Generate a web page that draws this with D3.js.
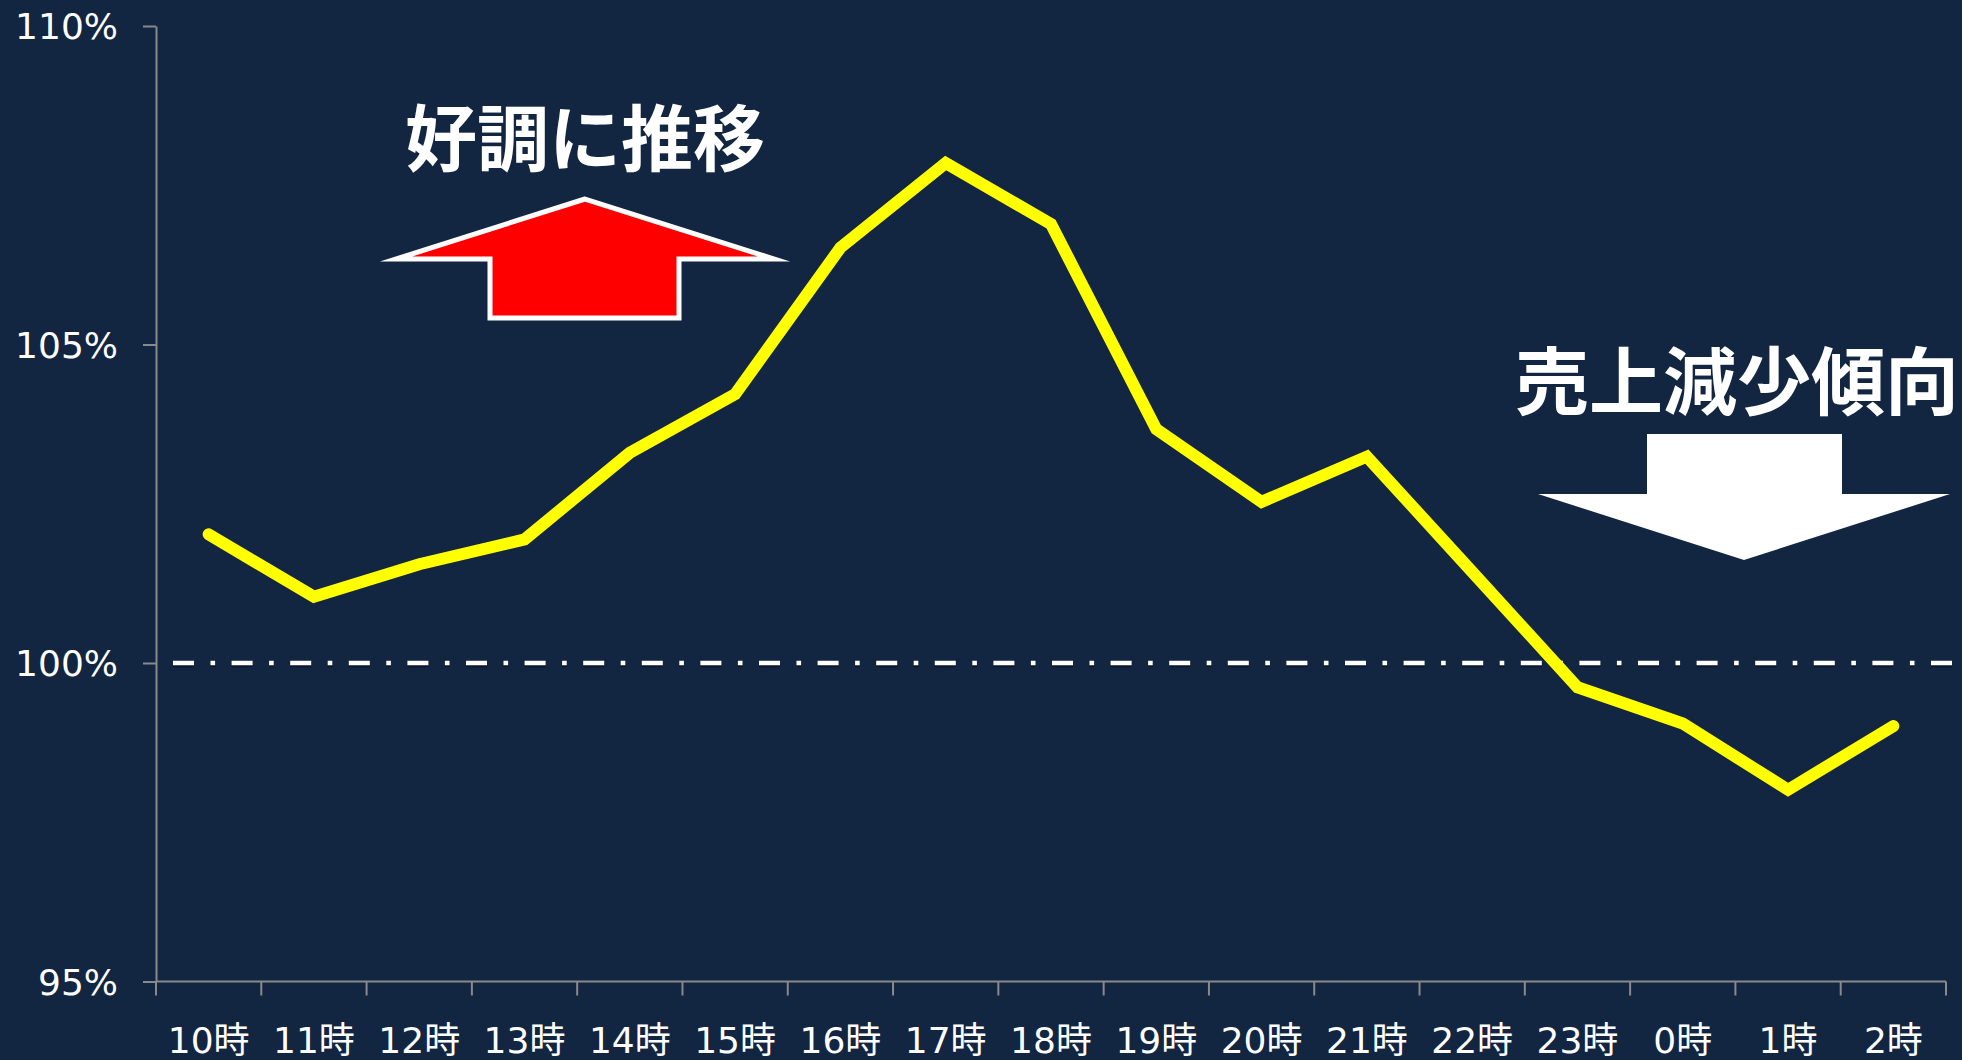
<!DOCTYPE html>
<html>
<head>
<meta charset="utf-8">
<script src="https://cdn.jsdelivr.net/npm/d3@7"></script>
<style>
  html, body { margin: 0; padding: 0; background: #122541; }
  svg { display: block; }
</style>
</head>
<body>
<script>
// hours on the x axis
let categories = ['10時', '11時', '12時', '13時', '14時', '15時', '16時', '17時', '18時',
                  '19時', '20時', '21時', '22時', '23時', '0時', '1時', '2時'];
// sales ratio (%) per hour
let values = [102.02, 101.04, 101.55, 101.94, 103.30, 104.22, 106.52, 107.85, 106.89,
              103.67, 102.53, 103.24, 101.43, 99.62, 99.05, 98.01, 99.01];
let yTicks = [95, 100, 105, 110];
let baseline = 100;
let upLabel = '好調に推移';
let downLabel = '売上減少傾向';

let width = 1962;
let height = 1060;
let bg = '#122541';

let svg = d3.select('body').append('svg')
  .attr('width', width)
  .attr('height', height);

svg.append('rect')
  .attr('width', width).attr('height', height)
  .attr('fill', bg);

let x = d3.scaleBand()
  .domain(categories)
  .range([156, 1946]);

let y = d3.scaleLinear()
  .domain([95, 110])
  .range([981.5, 26]);

let axisColor = '#8a8a8a';

// y axis
let yAxis = svg.append('g')
  .attr('transform', 'translate(156,0)')
  .call(d3.axisLeft(y).tickValues(yTicks).tickSize(13).tickSizeOuter(0)
        .tickPadding(25).tickFormat(d => d + '%'));
yAxis.select('.domain').attr('stroke', axisColor).attr('stroke-width', 2);
yAxis.selectAll('.tick line').attr('stroke', axisColor).attr('stroke-width', 2);
yAxis.selectAll('text')
  .attr('fill', '#ffffff')
  .attr('font-family', 'DejaVu Sans, Verdana, sans-serif')
  .attr('font-size', 36)
  .attr('dy', '0.36em');

// x axis: labels at band centres, ticks at band edges
let xAxis = svg.append('g')
  .attr('transform', 'translate(0,981.5)')
  .call(d3.axisBottom(x).tickSize(0).tickSizeOuter(0));
xAxis.select('.domain').remove();
xAxis.selectAll('text')
  .attr('fill', '#ffffff')
  .attr('font-family', 'DejaVu Sans, "Noto Sans CJK JP", sans-serif')
  .attr('font-size', 36)
  .attr('y', 59)
  .attr('dy', '0.36em');

xAxis.append('line')
  .attr('x1', x.range()[0]).attr('x2', x.range()[1])
  .attr('stroke', axisColor).attr('stroke-width', 2);

let edges = categories.map(c => x(c)).concat([x.range()[1]]);
xAxis.selectAll('.edge')
  .data(edges)
  .enter().append('line')
  .attr('class', 'edge')
  .attr('x1', d => d).attr('x2', d => d)
  .attr('y1', 0).attr('y2', 14)
  .attr('stroke', axisColor).attr('stroke-width', 2);

// 100% reference line (dash-dot)
let dash = '21,16.5,4.6,16.5';
svg.append('line')
  .attr('x1', 173).attr('x2', width)
  .attr('y1', y(baseline) + 2).attr('y2', y(baseline) + 2)
  .attr('stroke', '#000').attr('stroke-opacity', 0.35)
  .attr('stroke-width', 4.6).attr('stroke-dasharray', dash);
svg.append('line')
  .attr('x1', 173).attr('x2', width)
  .attr('y1', y(baseline)).attr('y2', y(baseline))
  .attr('stroke', '#ffffff')
  .attr('stroke-width', 4.6).attr('stroke-dasharray', dash);

// data line
let line = d3.line()
  .x((d, i) => x(categories[i]) + x.bandwidth() / 2)
  .y(d => y(d));

svg.append('path')
  .datum(values)
  .attr('d', line)
  .attr('fill', 'none')
  .attr('stroke', '#ffff00')
  .attr('stroke-width', 12)
  .attr('stroke-linecap', 'round')
  .attr('stroke-linejoin', 'miter');

// annotations
let upArrow = [[585, 199], [396, 259], [490, 259], [490, 318], [679, 318], [679, 259], [774, 259]];
svg.append('polygon')
  .attr('points', upArrow.map(p => p.join(',')).join(' '))
  .attr('fill', '#ff0000')
  .attr('stroke', '#ffffff')
  .attr('stroke-width', 5)
  .attr('stroke-linejoin', 'miter')
  .attr('stroke-miterlimit', 12);

let downArrow = [[1647, 434], [1842, 434], [1842, 494], [1950, 494], [1744, 560], [1538, 494], [1647, 494]];
svg.append('polygon')
  .attr('points', downArrow.map(p => p.join(',')).join(' '))
  .attr('fill', '#ffffff');

svg.append('text')
  .attr('x', 585).attr('y', 133)
  .attr('text-anchor', 'middle')
  .attr('dominant-baseline', 'central')
  .attr('font-family', '"Noto Sans CJK JP", sans-serif')
  .attr('font-weight', 700)
  .attr('font-size', 72)
  .attr('fill', '#ffffff')
  .text(upLabel);

svg.append('text')
  .attr('x', 1737).attr('y', 376)
  .attr('text-anchor', 'middle')
  .attr('dominant-baseline', 'central')
  .attr('font-family', '"Noto Sans CJK JP", sans-serif')
  .attr('font-weight', 700)
  .attr('font-size', 74)
  .attr('fill', '#ffffff')
  .text(downLabel);
</script>
</body>
</html>
